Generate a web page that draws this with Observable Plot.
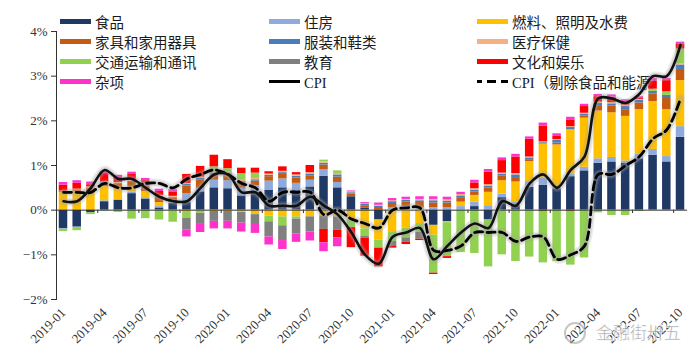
<!DOCTYPE html>
<html><head><meta charset="utf-8">
<script src="https://cdn.jsdelivr.net/npm/d3@7"></script>
<script src="https://cdn.jsdelivr.net/npm/@observablehq/plot@0.6"></script>
<style>
body{margin:0;background:#fff;}
#wrap{position:relative;width:700px;height:361px;overflow:hidden;background:#fff;}
#legend{position:absolute;left:0;top:0;width:700px;height:100px;z-index:0;font-family:"Noto Sans CJK SC",sans-serif;font-size:14.5px;color:#1a1a1a;}
.item{position:absolute;display:flex;align-items:center;height:20px;white-space:nowrap;}
.sw{width:31px;height:5px;margin-right:4px;flex:none;}
.ln{width:31px;height:0;margin-right:4px;flex:none;border-top:3px solid #000;}
.ser{font-family:"Liberation Serif","Noto Sans CJK SC",serif;}
#chart{position:absolute;left:0;top:0;z-index:1;}
#wm{position:absolute;left:596px;top:319px;z-index:2;font-family:"Noto Sans CJK SC",sans-serif;font-size:17px;color:rgba(140,140,140,0.75);-webkit-text-stroke:0.4px #fff;}
#wmi{position:absolute;left:564px;top:322px;width:18px;height:18px;border:2px solid rgba(160,160,160,0.6);border-radius:50%;z-index:2;}
</style></head><body>
<div id="wrap"><div id="legend"></div><div id="chart"></div><div id="wmi"></div><div id="wm">金融街卅五</div></div>
<script>
const months = ["2019-01","2019-02","2019-03","2019-04","2019-05","2019-06","2019-07","2019-08","2019-09","2019-10","2019-11","2019-12",
"2020-01","2020-02","2020-03","2020-04","2020-05","2020-06","2020-07","2020-08","2020-09","2020-10","2020-11","2020-12",
"2021-01","2021-02","2021-03","2021-04","2021-05","2021-06","2021-07","2021-08","2021-09","2021-10","2021-11","2021-12",
"2022-01","2022-02","2022-03","2022-04","2022-05","2022-06","2022-07","2022-08","2022-09","2022-10"];
const tickMonths = ["2019-01","2019-04","2019-07","2019-10","2020-01","2020-04","2020-07","2020-10","2021-01","2021-04","2021-07","2021-10","2022-01","2022-04","2022-07","2022-10"];
const categories = ["食品","住房","燃料、照明及水费","家具和家用器具","服装和鞋类","医疗保健","交通运输和通讯","教育","文化和娱乐","杂项"];
const lineNames = ["CPI","CPI（剔除食品和能源）"];
const yTicks = [-2,-1,0,1,2,3,4];

const food = [-0.41,-0.38,-0.06,0.19,0.22,0.37,0.25,0.05,0.15,0.17,0.41,0.50, 0.48,0.32,0.40,0.45,0.50,0.45,0.52,0.76,0.50,0.30,0.05,-0.22, 0,0,0,-0.34,-0.26,0,0.08,-0.22,0.28,0.10,0.51,0.56, 0.48,0.75,0.88,1.05,1.08,1.05,1.15,1.23,1.08,1.63];
const housing = [-0.02,-0.01,0.01,0.02,0.02,0.03,0.03,0.03,0.02,0.20,0.08,0.17, 0.18,0.17,0.15,0.20,0.20,0.15,0.15,0.15,0.12,0,0,0, 0.05,0.08,0.05,0.06,0.06,0.08,0.10,0.10,0.08,0.08,0.13,0.15, 0.05,0.05,0.08,0.10,0.10,0.05,0.10,0.13,0.12,0.24];
const fuel = [0.40,0.42,0.40,0.32,0.24,0.12,0.14,0.09,-0.02,-0.03,-0.02,-0.03, -0.03,-0.05,-0.10,-0.13,-0.15,-0.15,-0.15,-0.13,-0.15,-0.22,-0.42,-0.45, -0.50,-0.40,-0.30,-0.22,-0.02,0.10,0.15,0.30,0.30,0.45,0.45,0.77, 0.93,1.00,1.10,1.07,1.00,1.00,1.00,1.07,1.05,1.03];
const furniture = [0.03,0.03,0.08,0.07,0.10,0.10,0.12,0.12,0.10,0.17,0.18,0.12, 0.12,0.12,0.10,0.10,0.10,0.12,0.10,0.10,0.12,0.06,0.05,0.06, 0.10,0.10,0.12,0.10,0.10,0.10,0.08,0.10,0.10,0.10,0.04,-0.03, 0.04,-0.03,0.05,0.12,0.15,0.15,0.15,0.17,0.25,0.25];
const clothing = [0.00,0.01,0.01,0.02,0.02,0.03,0.03,0.02,0.02,0.04,0.04,0.05, 0.04,0.03,0.03,0.03,0.04,0.04,0.04,0.04,0.05,0.03,0.03,0.03, 0.04,0.04,0.04,0.05,0.04,0.04,0.04,0.04,0.04,0.06,0.04,0.03, 0.06,0.05,0.04,0.05,0.05,0.07,0.06,0.06,0.07,0.10];
const medical = [0.00,0.01,0.02,0.01,0.02,0.02,0.03,0.02,0.02,0.02,0.03,0.03, 0.03,0.03,0.03,0.03,0.03,0.03,0.03,0.03,0.03,0.02,0.01,0.02, 0.02,0.02,0.03,0.03,0.03,0.03,0.03,0.03,0.03,0.03,0.02,0.02, 0.02,0.02,0.02,0.03,0.03,0.03,0.02,-0.01,-0.01,0.02];
const transport = [-0.05,-0.07,-0.04,-0.02,-0.05,-0.20,-0.19,-0.22,-0.25,-0.15,-0.05,0.10, 0.08,0.15,0.12,-0.13,-0.20,-0.05,0.00,0.04,0.06,-0.17,-0.17,-0.18, -0.20,-0.22,-0.20,-0.85,-0.76,-0.95,-0.97,-1.05,-1.00,-1.15,-1.05,-1.15, -1.15,-1.20,-1.07,-0.06,-0.12,-0.12,-0.03,0.05,0.08,0.32];
const education = [0,0,0,0,0,0,0,0,0,-0.26,-0.23,-0.22, -0.22,-0.24,-0.22,-0.34,-0.33,-0.33,-0.34,-0.30,-0.30,0,-0.04,0, -0.10,-0.10,-0.15,0,0,0,0,0,0,0,0,0, 0,0,0,0,0,0,0,0,0,0.02];
const culture = [0.13,0.13,0.05,0.19,0.11,0.13,0.06,0.09,0.10,0.20,0.24,0.26, 0.20,0.12,0.11,0.05,0.10,0.05,0.16,-0.30,-0.17,-0.45,-0.40,-0.42, -0.05,-0.05,-0.03,-0.03,-0.04,0,0.13,0.28,0.28,0.37,0.40,0.35, 0.07,0.15,0.15,0.12,0.12,0.06,0.02,0.18,0.25,0.10];
const misc = [0.06,0.06,0.06,0.05,0.05,0.05,0.05,0.05,0.05,-0.16,-0.20,-0.17, -0.17,-0.20,-0.20,-0.18,-0.20,-0.19,-0.20,-0.20,-0.20,0.02,0.03,0.05, 0.05,0.05,0.06,0.06,0.06,0.05,0.06,0.06,0.06,0.06,0.05,0.07, 0.06,0.06,0.05,0.05,0.05,0.06,0.04,0.06,0.05,0.05];
const cpi = [0.2,0.2,0.5,0.9,0.7,0.7,0.5,0.3,0.2,0.2,0.5,0.8, 0.8,0.4,0.4,0.1,0.1,0.1,0.3,0.1,-0.1,-0.5,-1.0,-1.2, -0.6,-0.5,-0.4,-1.1,-0.8,-0.5,-0.3,-0.4,0.2,0.1,0.6,0.8, 0.5,0.9,1.2,2.5,2.5,2.4,2.6,3.0,3.0,3.7];
const cpiCore = [0.4,0.4,0.4,0.6,0.5,0.5,0.6,0.6,0.5,0.7,0.8,0.9, 0.8,0.6,0.5,0.2,0.4,0.4,0.4,-0.1,0.0,-0.2,-0.3,-0.4, 0.0,0.05,0.05,-0.9,-0.9,-0.8,-0.5,-0.5,-0.5,-0.7,-0.6,-0.6, -1.1,-1.0,-0.8,0.8,0.8,1.0,1.2,1.6,1.8,2.5];

const colors = ["#1f3864","#8faadc","#ffc000","#c55a11","#4a7ebb","#f4b183","#92d050","#808080","#ff0000","#ff33cc"];
const series = [food,housing,fuel,furniture,clothing,medical,transport,education,culture,misc];

const rows = [];
months.forEach((m,i)=>{ categories.forEach((c,k)=>{ rows.push({month:m, category:c, value:series[k][i]}); }); });
const lineRows = months.map((m,i)=>({month:m, cpi:cpi[i], core:cpiCore[i]}));

// legend (drawn behind the plot, as in the reference)
const legend = document.getElementById("legend");
const colX = [60,269,477], rowY = [11,31.5,51.5,71.5];
[...categories, ...lineNames].forEach((name,idx)=>{
  const d = document.createElement("div");
  d.className = "item";
  d.style.left = colX[idx%3]+"px"; d.style.top = rowY[Math.floor(idx/3)]+"px";
  let sw;
  if (idx < categories.length) { sw = `<span class="sw" style="background:${colors[idx]}"></span>`; }
  else if (idx === categories.length) { sw = `<span class="ln"></span>`; }
  else { sw = `<span class="ln" style="border-top:3px dashed #000;border-image:repeating-linear-gradient(90deg,#000 0 7px,transparent 7px 11px) 3"></span>`; }
  const txt = name.startsWith("CPI") ? `<span class="ser">CPI</span>${name.slice(3)}` : name;
  d.innerHTML = sw + `<span>${txt}</span>`;
  legend.appendChild(d);
});

const W=700,H=361,mL=56,mR=13,mT=31,mB=62, pIn=0.38, pOut=0.2;
const step = (W-mL-mR)/(months.length - pIn + 2*pOut);
const curve = "catmull-rom";
const fmt = d => (d<0?"\u2212":"") + Math.abs(d) + "%";

const plot = Plot.plot({
  width:W, height:H, marginLeft:mL, marginRight:mR, marginTop:mT, marginBottom:mB,
  style:{fontFamily:"'Liberation Serif', serif", fontSize:"13px", color:"#333", background:"transparent", overflow:"visible"},
  x:{type:"band", domain:months, paddingInner:pIn, paddingOuter:pOut, axis:null, label:null},
  y:{domain:[-2,4], axis:null, label:null},
  color:{domain:categories, range:colors},
  marks:[
    Plot.barY(rows,{x:"month", y:"value", fill:"category"}),
    Plot.ruleY([0],{stroke:"#333", strokeWidth:1}),
    Plot.ruleX(tickMonths.slice(1),{x:d=>d, y1:0, y2:-0.075, dx:-step/2, stroke:"#333"}),
    Plot.line(lineRows,{x:"month", y:"core", curve, stroke:"#999", strokeWidth:9, strokeOpacity:0.18}),
    Plot.line(lineRows,{x:"month", y:"core", curve, stroke:"#aaa", strokeWidth:6, strokeOpacity:0.3}),
    Plot.line(lineRows,{x:"month", y:"cpi", curve, stroke:"#999", strokeWidth:9, strokeOpacity:0.18}),
    Plot.line(lineRows,{x:"month", y:"cpi", curve, stroke:"#aaa", strokeWidth:6, strokeOpacity:0.3}),
    Plot.line(lineRows,{x:"month", y:"core", curve, stroke:"#000", strokeWidth:2.8, strokeDasharray:"8,4.5"}),
    Plot.line(lineRows,{x:"month", y:"cpi", curve, stroke:"#111", strokeWidth:2.6}),
    Plot.frame({anchor:"left", stroke:"#333"}),
    Plot.axisY({ticks:yTicks, tickFormat:fmt, tickSize:5, tickPadding:4, stroke:"#333", label:null}),
    Plot.axisX({ticks:tickMonths, tickRotate:-45, tickSize:0, tickPadding:11, fontSize:13, label:null})
  ]
});
document.getElementById("chart").appendChild(plot);
</script>
</body></html>
